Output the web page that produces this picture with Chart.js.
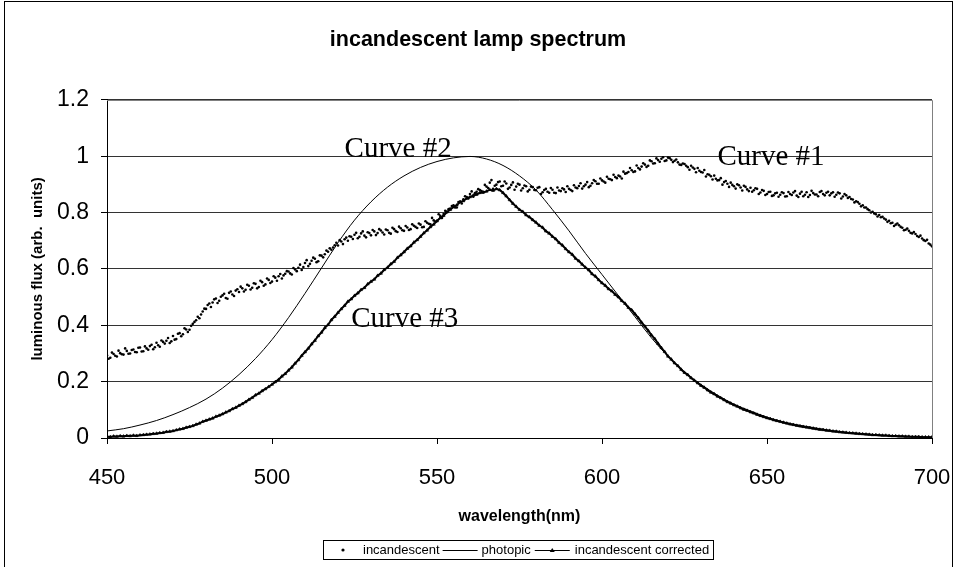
<!DOCTYPE html>
<html>
<head>
<meta charset="utf-8">
<script src="https://cdn.jsdelivr.net/npm/chart.js@4.4.1/dist/chart.umd.min.js"></script>
<style>
  html, body { margin: 0; padding: 0; background: #fff; }
  #wrap { width: 956px; height: 567px; position: relative; }
</style>
</head>
<body>
<div id="wrap"><canvas id="spectrum" width="956" height="567"></canvas></div>
<script>
// x ticks / range
const xTicks = [450, 500, 550, 600, 650, 700];

// incandescent (Curve #1), readings at 450, 451, ... 700 nm
const incandescent = [
  0.293, 0.285, 0.298, 0.289, 0.301, 0.296, 0.309, 0.300, 0.314, 0.304,
  0.321, 0.308, 0.318, 0.326, 0.315, 0.338, 0.324, 0.341, 0.345, 0.337,
  0.362, 0.351, 0.372, 0.368, 0.385, 0.384, 0.405, 0.418, 0.425, 0.449,
  0.458, 0.477, 0.481, 0.495, 0.487, 0.506, 0.497, 0.515, 0.509, 0.523,
  0.518, 0.531, 0.526, 0.540, 0.533, 0.547, 0.536, 0.553, 0.545, 0.561,
  0.555, 0.569, 0.574, 0.566, 0.583, 0.591, 0.580, 0.598, 0.604, 0.596,
  0.621, 0.610, 0.629, 0.636, 0.627, 0.647, 0.652, 0.661, 0.668, 0.684,
  0.683, 0.697, 0.705, 0.700, 0.714, 0.721, 0.709, 0.726, 0.718, 0.730,
  0.719, 0.733, 0.727, 0.736, 0.722, 0.737, 0.725, 0.741, 0.731, 0.744,
  0.735, 0.747, 0.741, 0.753, 0.745, 0.757, 0.749, 0.764, 0.758, 0.772,
  0.770, 0.788, 0.795, 0.801, 0.814, 0.826, 0.818, 0.839, 0.847, 0.855,
  0.866, 0.856, 0.874, 0.880, 0.871, 0.892, 0.906, 0.884, 0.899, 0.910,
  0.895, 0.903, 0.889, 0.907, 0.892, 0.899, 0.886, 0.893, 0.881, 0.890,
  0.879, 0.890, 0.872, 0.884, 0.870, 0.881, 0.869, 0.878, 0.886, 0.873,
  0.884, 0.876, 0.889, 0.894, 0.885, 0.899, 0.890, 0.904, 0.911, 0.902,
  0.914, 0.906, 0.920, 0.915, 0.926, 0.931, 0.921, 0.938, 0.944, 0.950,
  0.946, 0.958, 0.963, 0.970, 0.966, 0.982, 0.975, 0.986, 0.991, 0.983,
  0.995, 0.987, 0.984, 0.978, 0.969, 0.972, 0.961, 0.966, 0.955, 0.958,
  0.944, 0.951, 0.936, 0.929, 0.931, 0.914, 0.922, 0.908, 0.902, 0.906,
  0.893, 0.900, 0.889, 0.895, 0.882, 0.888, 0.879, 0.884, 0.871, 0.877,
  0.866, 0.874, 0.861, 0.870, 0.863, 0.869, 0.858, 0.866, 0.871, 0.860,
  0.867, 0.858, 0.872, 0.862, 0.869, 0.864, 0.873, 0.866, 0.870, 0.861,
  0.872, 0.863, 0.868, 0.857, 0.861, 0.855, 0.846, 0.840, 0.831, 0.826,
  0.818, 0.808, 0.803, 0.794, 0.791, 0.785, 0.775, 0.771, 0.764, 0.757,
  0.755, 0.746, 0.739, 0.735, 0.726, 0.724, 0.713, 0.708, 0.699, 0.690,
  0.680
];

// incandescent, in-between readings at 450.5, 451.5, ... 699.5 nm
const incandescentHalf = [
  0.281, 0.303, 0.292, 0.310, 0.297, 0.318, 0.299, 0.312, 0.305, 0.320,
  0.307, 0.325, 0.313, 0.331, 0.322, 0.329, 0.346, 0.335, 0.355, 0.343,
  0.349, 0.370, 0.361, 0.389, 0.376, 0.398, 0.412, 0.430, 0.438, 0.459,
  0.472, 0.465, 0.492, 0.479, 0.501, 0.512, 0.494, 0.520, 0.504, 0.528,
  0.537, 0.520, 0.544, 0.527, 0.549, 0.531, 0.558, 0.540, 0.566, 0.550,
  0.574, 0.558, 0.582, 0.577, 0.592, 0.584, 0.603, 0.592, 0.615, 0.607,
  0.631, 0.618, 0.640, 0.624, 0.648, 0.641, 0.665, 0.673, 0.676, 0.693,
  0.702, 0.688, 0.711, 0.716, 0.706, 0.728, 0.714, 0.733, 0.712, 0.727,
  0.738, 0.720, 0.741, 0.729, 0.740, 0.728, 0.746, 0.734, 0.750, 0.737,
  0.752, 0.738, 0.758, 0.749, 0.761, 0.748, 0.769, 0.760, 0.781, 0.768,
  0.794, 0.781, 0.806, 0.812, 0.823, 0.818, 0.837, 0.832, 0.858, 0.850,
  0.875, 0.869, 0.883, 0.876, 0.898, 0.887, 0.915, 0.895, 0.908, 0.893,
  0.910, 0.884, 0.898, 0.881, 0.902, 0.878, 0.896, 0.875, 0.892, 0.880,
  0.888, 0.866, 0.880, 0.874, 0.887, 0.870, 0.889, 0.876, 0.882, 0.893,
  0.880, 0.897, 0.886, 0.904, 0.893, 0.908, 0.895, 0.915, 0.902, 0.921,
  0.910, 0.927, 0.918, 0.934, 0.922, 0.928, 0.945, 0.940, 0.958, 0.944,
  0.967, 0.953, 0.975, 0.962, 0.985, 0.974, 0.992, 0.980, 0.996, 0.985,
  0.993, 0.979, 0.988, 0.970, 0.974, 0.966, 0.952, 0.960, 0.943, 0.948,
  0.942, 0.928, 0.934, 0.917, 0.920, 0.915, 0.899, 0.912, 0.891, 0.898,
  0.885, 0.897, 0.878, 0.891, 0.876, 0.874, 0.886, 0.866, 0.880, 0.862,
  0.873, 0.859, 0.868, 0.856, 0.872, 0.857, 0.873, 0.862, 0.876, 0.855,
  0.874, 0.863, 0.855, 0.877, 0.864, 0.858, 0.876, 0.861, 0.874, 0.868,
  0.856, 0.871, 0.850, 0.866, 0.852, 0.848, 0.836, 0.837, 0.822, 0.818,
  0.812, 0.800, 0.797, 0.786, 0.783, 0.779, 0.767, 0.762, 0.752, 0.761,
  0.749, 0.737, 0.743, 0.728, 0.731, 0.717, 0.718, 0.702, 0.703, 0.686
];

// incandescent corrected (Curve #3), readings at 450, 451, ... 700 nm
const corrected = [
  0.005, 0.004, 0.006, 0.005, 0.007, 0.006, 0.008, 0.007, 0.009, 0.008,
  0.010, 0.011, 0.012, 0.013, 0.015, 0.016, 0.018, 0.019, 0.022, 0.023,
  0.025, 0.028, 0.031, 0.033, 0.037, 0.040, 0.043, 0.048, 0.052, 0.058,
  0.062, 0.066, 0.070, 0.076, 0.080, 0.085, 0.091, 0.096, 0.103, 0.108,
  0.115, 0.121, 0.128, 0.136, 0.143, 0.152, 0.158, 0.167, 0.174, 0.182,
  0.190, 0.199, 0.207, 0.219, 0.228, 0.240, 0.251, 0.265, 0.277, 0.292,
  0.305, 0.318, 0.333, 0.346, 0.362, 0.375, 0.391, 0.402, 0.419, 0.431,
  0.445, 0.458, 0.470, 0.484, 0.493, 0.505, 0.514, 0.526, 0.533, 0.546,
  0.555, 0.563, 0.576, 0.584, 0.597, 0.605, 0.617, 0.626, 0.640, 0.649,
  0.660, 0.672, 0.681, 0.694, 0.703, 0.715, 0.727, 0.737, 0.749, 0.758,
  0.770, 0.781, 0.789, 0.802, 0.810, 0.820, 0.826, 0.837, 0.841, 0.850,
  0.855, 0.861, 0.864, 0.870, 0.872, 0.875, 0.881, 0.878, 0.884, 0.880,
  0.870, 0.858, 0.845, 0.832, 0.821, 0.810, 0.803, 0.791, 0.784, 0.774,
  0.765, 0.754, 0.747, 0.734, 0.726, 0.715, 0.706, 0.693, 0.684, 0.671,
  0.660, 0.651, 0.637, 0.628, 0.616, 0.605, 0.596, 0.582, 0.574, 0.561,
  0.550, 0.541, 0.529, 0.521, 0.509, 0.500, 0.487, 0.477, 0.463, 0.454,
  0.440, 0.426, 0.410, 0.396, 0.381, 0.365, 0.352, 0.335, 0.320, 0.306,
  0.290, 0.279, 0.266, 0.256, 0.243, 0.232, 0.224, 0.213, 0.204, 0.195,
  0.186, 0.179, 0.170, 0.162, 0.156, 0.148, 0.142, 0.135, 0.128, 0.123,
  0.117, 0.112, 0.106, 0.101, 0.097, 0.092, 0.088, 0.083, 0.079, 0.075,
  0.071, 0.068, 0.064, 0.061, 0.058, 0.055, 0.052, 0.049, 0.047, 0.044,
  0.042, 0.040, 0.038, 0.036, 0.034, 0.032, 0.030, 0.029, 0.027, 0.026,
  0.024, 0.023, 0.021, 0.020, 0.019, 0.018, 0.017, 0.016, 0.015, 0.014,
  0.013, 0.012, 0.011, 0.011, 0.010, 0.009, 0.009, 0.008, 0.007, 0.007,
  0.006, 0.006, 0.005, 0.005, 0.004, 0.004, 0.004, 0.003, 0.003, 0.003,
  0.003
];

// photopic (Curve #2)
const photopicWl = [
  450, 455, 460, 465, 470, 475, 480, 485, 490, 495,
  500, 505, 510, 515, 520, 525, 530, 535, 540, 545,
  550, 555, 560, 565, 570, 575, 580, 585, 590, 595,
  600, 605, 610, 615, 620, 625, 630, 635, 640, 645,
  650, 655, 660, 665, 670, 675, 680, 685, 690, 695,
  700
];
const photopic = [
  0.025, 0.033, 0.046, 0.062, 0.083, 0.108, 0.138, 0.177, 0.225, 0.282,
  0.349, 0.427, 0.513, 0.603, 0.693, 0.773, 0.838, 0.890, 0.930, 0.960,
  0.981, 0.994, 0.999, 0.990, 0.967, 0.930, 0.880, 0.810, 0.735, 0.655,
  0.580, 0.505, 0.430, 0.355, 0.290, 0.235, 0.190, 0.152, 0.120, 0.096,
  0.074, 0.057, 0.045, 0.035, 0.026, 0.019, 0.014, 0.010, 0.007, 0.005,
  0.003
];

const curveLabels = [
  { text: 'Curve #2', wl: 522, v: 0.998 },
  { text: 'Curve #1', wl: 635, v: 0.968 },
  { text: 'Curve #3', wl: 524, v: 0.393 }
];

// sampling grids of the measured series
const wlFine = [];
for (let w = 450; w <= 700; w++) wlFine.push(w);
const wlHalf = wlFine.slice(0, -1).map(w => w + 0.5);

function pairs(xs, ys) {
    return ys.map((v, i) => ({ x: xs[i], y: v }));
}

Chart.defaults.font.family = '"Liberation Sans", Arial, sans-serif';
Chart.defaults.color = '#000';

const decor = {
    id: 'decor',
    beforeDraw(chart) {
        const ctx = chart.ctx;
        ctx.save();
        ctx.fillStyle = '#fff';
        ctx.fillRect(0, 0, chart.width, chart.height);
        ctx.strokeStyle = '#000';
        ctx.lineWidth = 1;
        ctx.strokeRect(4.5, 1.5, 948, 640);
        ctx.restore();
    },
    afterDraw(chart) {
        const ctx = chart.ctx;
        const a = chart.chartArea;
        const xs = chart.scales.x, ys = chart.scales.y;
        ctx.save();
        // plot frame, top and right
        ctx.strokeStyle = '#808080';
        ctx.lineWidth = 1;
        ctx.beginPath();
        ctx.moveTo(a.left, Math.round(a.top) + 0.5);
        ctx.lineTo(Math.round(a.right) + 0.5, Math.round(a.top) + 0.5);
        ctx.lineTo(Math.round(a.right) + 0.5, a.bottom);
        ctx.stroke();

        // curve labels
        ctx.fillStyle = '#000';
        ctx.font = '29px "Liberation Serif", "Times New Roman", serif';
        ctx.textBaseline = 'alphabetic';
        ctx.textAlign = 'left';
        curveLabels.forEach(l => {
            ctx.fillText(l.text, xs.getPixelForValue(l.wl), ys.getPixelForValue(l.v));
        });

        // legend box
        ctx.strokeStyle = '#000';
        ctx.fillStyle = '#fff';
        ctx.fillRect(323.5, 540.5, 390, 19);
        ctx.strokeRect(323.5, 540.5, 390, 19);
        const ly = 550;
        ctx.fillStyle = '#000';
        ctx.beginPath();
        ctx.arc(343, ly, 1.6, 0, Math.PI * 2);
        ctx.fill();
        ctx.font = '13px "Liberation Sans", Arial, sans-serif';
        ctx.textBaseline = 'middle';
        let x = 363;
        ctx.fillText('incandescent', x, ly);
        x += ctx.measureText('incandescent').width + 3;
        ctx.beginPath();
        ctx.moveTo(x, ly + 0.5);
        ctx.lineTo(x + 35, ly + 0.5);
        ctx.stroke();
        x += 39;
        ctx.fillText('photopic', x, ly);
        x += ctx.measureText('photopic').width + 4;
        ctx.beginPath();
        ctx.moveTo(x, ly + 0.5);
        ctx.lineTo(x + 35, ly + 0.5);
        ctx.stroke();
        const mx = x + 17.5;
        ctx.beginPath();
        ctx.moveTo(mx, ly - 2);
        ctx.lineTo(mx + 2.5, ly + 2);
        ctx.lineTo(mx - 2.5, ly + 2);
        ctx.closePath();
        ctx.fill();
        x += 40;
        ctx.fillText('incandescent corrected', x, ly);
        ctx.restore();
    }
};

const ctx = document.getElementById('spectrum').getContext('2d');
new Chart(ctx, {
    type: 'line',
    data: {
        datasets: [
            {
                label: 'incandescent',
                data: pairs(wlFine, incandescent).concat(pairs(wlHalf, incandescentHalf)),
                showLine: false,
                pointRadius: 1.3,
                pointBackgroundColor: '#000',
                pointBorderWidth: 0,
                borderColor: '#000'
            },
            {
                label: 'photopic',
                data: pairs(photopicWl, photopic),
                borderColor: '#000',
                borderWidth: 1,
                pointRadius: 0,
                cubicInterpolationMode: 'monotone'
            },
            {
                label: 'incandescent corrected',
                data: pairs(wlFine, corrected),
                borderColor: '#000',
                borderWidth: 2,
                pointStyle: 'triangle',
                pointRadius: 1.8,
                pointBackgroundColor: '#000',
                pointBorderColor: '#000',
                pointBorderWidth: 0.5
            }
        ]
    },
    options: {
        responsive: false,
        animation: false,
        devicePixelRatio: 1,
        layout: { padding: { left: 24, right: 24, top: 0, bottom: 39 } },
        plugins: {
            legend: { display: false },
            tooltip: { enabled: false },
            title: {
                display: true,
                text: 'incandescent lamp spectrum',
                font: { size: 21.5, weight: 'bold' },
                padding: { top: 27, bottom: 47 }
            }
        },
        scales: {
            x: {
                type: 'linear',
                min: 450,
                max: 700,
                afterBuildTicks: s => { s.ticks = xTicks.map(v => ({ value: v })); },
                ticks: { font: { size: 22 }, padding: 21, maxRotation: 0 },
                grid: { drawOnChartArea: false, tickLength: 6, tickColor: '#000' },
                border: { color: '#000' },
                title: {
                    display: true,
                    text: 'wavelength(nm)',
                    font: { size: 16, weight: 'bold' },
                    padding: { top: 0, bottom: 2 }
                },
                afterFit: s => {
                    s.height = 90;
                    s.paddingLeft = 0;
                    s.paddingRight = 0;
                }
            },
            y: {
                min: 0,
                max: 1.2,
                ticks: {
                    stepSize: 0.2,
                    font: { size: 23 },
                    padding: 12,
                    callback: v => String(Number(v.toFixed(1)))
                },
                grid: { color: '#333', tickLength: 6, tickColor: '#000' },
                border: { color: '#000' },
                title: {
                    display: true,
                    text: 'luminous flux (arb.  units)',
                    font: { size: 15, weight: 'bold' },
                    padding: { top: 5, bottom: 0 }
                },
                afterFit: s => { s.width = 83; }
            }
        }
    },
    plugins: [decor]
});
</script>
</body>
</html>
